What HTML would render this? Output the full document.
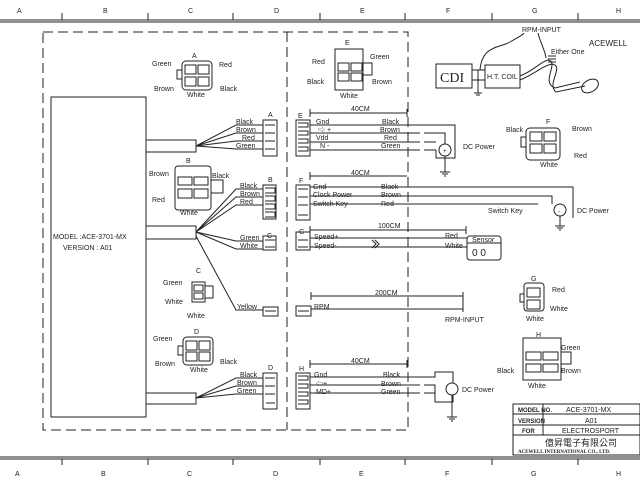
<!DOCTYPE html>
<html><head><meta charset="utf-8"><style>
html,body{margin:0;padding:0;background:#fff;}
svg{display:block;}
text{font-family:"Liberation Sans","Noto Sans CJK TC",sans-serif;font-size:7px;fill:#222;}
.l{stroke:#222;stroke-width:1;fill:none;}
.d{stroke:#222;stroke-width:1;fill:none;stroke-dasharray:10,5;}
.w{fill:#fff;stroke:#222;stroke-width:1;}
</style></head><body>
<svg width="640" height="480" viewBox="0 0 640 480" xmlns="http://www.w3.org/2000/svg">
<!-- border -->
<line x1="0" y1="20" x2="640" y2="20" class="l" stroke-width="1.5"/>
<line x1="0" y1="22" x2="640" y2="22" class="l"/>
<line x1="0" y1="457" x2="640" y2="457" class="l" stroke-width="1.5"/>
<line x1="0" y1="459" x2="640" y2="459" class="l"/>
<g class="l">
<path d="M62 13v7M148 13v7M233 13v7M320 13v7M405 13v7M492 13v7M578 13v7"/>
<path d="M62 459v6M148 459v6M233 459v6M320 459v6M405 459v6M492 459v6M578 459v6"/>
</g>
<g style="font-size:9px">
<text x="17" y="13">A</text><text x="103" y="13">B</text><text x="188" y="13">C</text><text x="274" y="13">D</text><text x="360" y="13">E</text><text x="446" y="13">F</text><text x="532" y="13">G</text><text x="616" y="13">H</text>
<text x="15" y="476">A</text><text x="101" y="476">B</text><text x="187" y="476">C</text><text x="273" y="476">D</text><text x="359" y="476">E</text><text x="445" y="476">F</text><text x="531" y="476">G</text><text x="616" y="476">H</text>
</g>
<!-- dashed boxes -->
<rect x="43" y="32" width="365" height="398" class="d"/>
<line x1="287" y1="32" x2="287" y2="430" class="d"/>
<!-- main box -->
<rect x="51" y="97" width="95" height="320" class="l"/>
<text x="53" y="239">MODEL :ACE-3701-MX</text>
<text x="63" y="250">VERSION : A01</text>
<!-- cables -->
<rect x="146" y="140" width="50" height="12" class="l"/>
<rect x="146" y="226" width="50" height="13" class="l"/>
<rect x="146" y="393" width="50" height="11" class="l"/>
<g class="l">
<path d="M196 146L236 125H263M196 146L236 133H263M196 146L236 141H263M196 146L236 149H263"/>
<path d="M196 232L236 189H263M196 232L236 197H263M196 232L236 205H263"/>
<path d="M196 232L236 241H263M196 232L236 249H263"/>
<path d="M196 236L236 310H263"/>
<path d="M196 398L236 378H263M196 398L236 386H263M196 398L236 394H263"/>
</g>
<text x="236" y="124">Black</text><text x="236" y="132">Brown</text><text x="242" y="140">Red</text><text x="236" y="148">Green</text>
<text x="240" y="188">Black</text><text x="240" y="196">Brown</text><text x="240" y="204">Red</text>
<text x="240" y="240">Green</text><text x="240" y="248">White</text>
<text x="237" y="309">Yellow</text>
<text x="240" y="377">Black</text><text x="237" y="385">Brown</text><text x="237" y="393">Green</text>
<!-- left-side connectors -->
<text x="268" y="117">A</text><rect x="263" y="120" width="14" height="36" class="l"/>
<path class="l" d="M265 125h10M265 133h10M265 141h10M265 149h10"/>
<text x="268" y="182">B</text><rect x="263" y="185" width="13" height="34" class="l"/>
<path class="l" d="M265 188h10v5h-10M265 196h10v5h-10M265 204h10v5h-10M265 212h10v5h-10"/>
<text x="267" y="238">C</text><rect x="263" y="236" width="13" height="14" class="l"/>
<path class="l" d="M265 240h10M265 247h10"/>
<rect x="263" y="307" width="15" height="9" class="l"/><path class="l" d="M265 311h11"/>
<text x="268" y="370">D</text><rect x="263" y="373" width="14" height="36" class="l"/>
<path class="l" d="M265 378h10M265 386h10M265 394h10M266 403h9"/>
<!-- connector drawings left -->
<text x="192" y="58">A</text>
<rect x="182" y="61" width="30" height="29" rx="4" class="l"/><rect x="177" y="70" width="5" height="9" class="l"/>
<rect x="185" y="65" width="11" height="9" class="l"/><rect x="198" y="65" width="11" height="9" class="l"/><rect x="185" y="77" width="11" height="9" class="l"/><rect x="198" y="77" width="11" height="9" class="l"/>
<text x="152" y="66">Green</text><text x="219" y="67">Red</text><text x="154" y="91">Brown</text><text x="220" y="91">Black</text><text x="187" y="97">White</text>
<text x="186" y="163">B</text>
<rect x="175" y="166" width="36" height="44" rx="3" class="l"/><rect x="211" y="180" width="12" height="13" class="l"/>
<rect x="178" y="177" width="14" height="8" class="l"/><rect x="194" y="177" width="14" height="8" class="l"/><rect x="178" y="189" width="14" height="9" class="l"/><rect x="194" y="189" width="14" height="9" class="l"/>
<text x="149" y="176">Brown</text><text x="212" y="178">Black</text><text x="152" y="202">Red</text><text x="180" y="215">White</text>
<text x="196" y="273">C</text>
<rect x="192" y="282" width="13" height="20" class="l"/><rect x="205" y="286" width="8" height="12" class="l"/>
<rect x="194" y="285" width="9" height="6" class="l"/><rect x="194" y="293" width="9" height="6" class="l"/>
<text x="163" y="285">Green</text><text x="165" y="304">White</text><text x="187" y="318">White</text>
<text x="194" y="334">D</text>
<rect x="183" y="337" width="30" height="28" rx="4" class="l"/><rect x="178" y="346" width="5" height="9" class="l"/>
<rect x="186" y="341" width="11" height="9" class="l"/><rect x="199" y="341" width="11" height="9" class="l"/><rect x="186" y="352" width="11" height="9" class="l"/><rect x="199" y="352" width="11" height="9" class="l"/>
<text x="153" y="341">Green</text><text x="155" y="366">Brown</text><text x="220" y="364">Black</text><text x="190" y="372">White</text>
<!-- E connector drawing top -->
<text x="345" y="45">E</text>
<rect x="335" y="49" width="28" height="41" class="l"/><rect x="363" y="63" width="9" height="12" class="l"/>
<rect x="338" y="63" width="11" height="8" class="l"/><rect x="351" y="63" width="11" height="8" class="l"/><rect x="338" y="73" width="11" height="8" class="l"/><rect x="351" y="73" width="11" height="8" class="l"/>
<text x="312" y="64">Red</text><text x="370" y="59">Green</text><text x="307" y="84">Black</text><text x="372" y="84">Brown</text><text x="340" y="98">White</text>
<!-- right side harnesses -->
<g class="l">
<path d="M310 113H407M310 109v8M407 109v8M362 176H407M310 176H407M310 172v8"/>
</g>
<text x="351" y="111">40CM</text>
<text x="298" y="118">E</text><rect x="296" y="120" width="14" height="36" class="l"/>
<path class="l" d="M298 123h10v4h-10M298 131h10v4h-10M298 139h10v4h-10M298 147h10v4h-10"/>
<path class="l" d="M310 125H455V158H436V150M310 133H420M424 133H445V144M310 142H420M424 142H436M310 150H420M424 150H436"/>
<circle cx="445" cy="150" r="6" class="w"/><text x="443" y="153" style="font-size:6px">+</text>
<path class="l" d="M445 156V172M440 172h10M442 174h6M444 176h2"/>
<text x="316" y="124">Gnd</text><text x="318" y="132">⇨ +</text><text x="316" y="140">Vdd</text><text x="320" y="148">N -</text>
<text x="382" y="124">Black</text><text x="380" y="132">Brown</text><text x="384" y="140">Red</text><text x="381" y="148">Green</text>
<text x="463" y="149">DC Power</text>
<text x="351" y="175">40CM</text>
<text x="299" y="183">F</text><rect x="296" y="185" width="14" height="35" class="l"/>
<path class="l" d="M298 189h10M298 197h10M298 205h10M298 215h10"/>
<path class="l" d="M310 187H573V218M310 196H552V204M310 204H538"/>
<circle cx="560" cy="210" r="6" class="w"/><text x="558" y="213" style="font-size:6px">-</text>
<path class="l" d="M560 216V226M555 226h10M557 228h6M559 230h2"/>
<text x="313" y="189">Gnd</text><text x="313" y="197">Clock Power</text><text x="313" y="206">Switch Key</text>
<text x="381" y="189">Black</text><text x="381" y="197">Brown</text><text x="381" y="206">Red</text>
<text x="488" y="213">Switch Key</text><text x="577" y="213">DC Power</text>
<!-- G -->
<path class="l" d="M310 230H466M310 226v8M466 226v8"/><text x="378" y="228">100CM</text>
<text x="299" y="234">G</text><rect x="296" y="232" width="14" height="18" class="l"/>
<path class="l" d="M298 240h10M298 247h10"/>
<path class="l" d="M310 238H467M310 247H467M372 240l4 4-4 4M375 240l4 4-4 4"/>
<text x="314" y="239">Speed+</text><text x="314" y="248">Speed-</text>
<text x="445" y="238">Red</text><text x="445" y="248">White</text>
<rect x="467" y="236" width="34" height="24" rx="3" class="l"/><path class="l" d="M467 243h34"/>
<text x="472" y="242">Sensor</text><text x="472" y="256" style="font-size:10px">0  0</text>
<!-- RPM -->
<path class="l" d="M311 296H463M311 292v8M463 292v20"/><text x="375" y="295">200CM</text>
<rect x="296" y="306" width="15" height="10" class="l"/><path class="l" d="M298 311h11"/>
<path class="l" d="M311 309H463"/><text x="314" y="309">RPM</text>
<text x="445" y="322">RPM-INPUT</text>
<!-- H -->
<path class="l" d="M310 364H407M310 360v8M407 360v8"/><text x="351" y="363">40CM</text>
<text x="299" y="371">H</text><rect x="296" y="373" width="14" height="36" class="l"/>
<path class="l" d="M298 376h10v4h-10M298 384h10v4h-10M298 392h10v4h-10M298 400h10v4h-10"/>
<path class="l" d="M310 377H435V372H453V383M310 385H420M424 385H435V402H453V395M310 393H420M424 393H435"/>
<circle cx="452" cy="389" r="6" class="w"/>
<path class="l" d="M452 395V417M447 417h10M449 419h6M451 421h2"/>
<text x="314" y="377">Gnd</text><text x="316" y="386">⇦+</text><text x="316" y="394">MD+</text>
<text x="383" y="377">Black</text><text x="381" y="386">Brown</text><text x="381" y="394">Green</text>
<text x="462" y="392">DC Power</text>
<!-- top-right CDI -->
<rect x="436" y="64" width="36" height="24" class="l"/><text x="440" y="82" style="font-size:14px;font-family:'Liberation Serif',serif">CDI</text>
<rect x="472" y="70" width="13" height="10" class="l"/>
<rect x="485" y="65" width="35" height="23" class="l"/><text x="487" y="79" style="font-size:7px">H.T. COIL</text>
<path class="l" d="M478 70V93M474 93h8M476 95h4"/>
<path class="l" stroke-width="1.5" d="M480 70C482 45 500 48 510 42C520 36 523 35 524 33M538 33C540 42 545 50 546 58"/>
<path class="l" d="M520 76C535 70 540 62 548 60M520 80C535 74 542 66 552 64M548 60C560 62 540 82 555 88L580 82M552 64C565 66 546 84 556 92L585 86"/>
<ellipse cx="590" cy="86" rx="9" ry="6" class="l" transform="rotate(-30 590 86)"/>
<path class="l" d="M548 56h8M548 59h8M548 62h8"/>
<text x="522" y="32">RPM-INPUT</text><text x="551" y="54">Either One</text>
<text x="589" y="46" style="font-size:8px">ACEWELL</text>
<!-- F drawing -->
<text x="546" y="124">F</text>
<rect x="526" y="128" width="34" height="32" rx="4" class="l"/><rect x="521" y="137" width="5" height="10" class="l"/>
<rect x="530" y="132" width="12" height="9" class="l"/><rect x="544" y="132" width="12" height="9" class="l"/><rect x="530" y="144" width="12" height="9" class="l"/><rect x="544" y="144" width="12" height="9" class="l"/>
<text x="506" y="132">Black</text><text x="572" y="131">Brown</text><text x="574" y="158">Red</text><text x="540" y="167">White</text>
<!-- G drawing -->
<text x="531" y="281">G</text>
<rect x="524" y="283" width="20" height="28" rx="3" class="l"/><rect x="520" y="294" width="4" height="8" class="l"/>
<rect x="527" y="288" width="13" height="9" class="l"/><rect x="527" y="300" width="13" height="9" class="l"/>
<text x="552" y="292">Red</text><text x="550" y="311">White</text><text x="526" y="321">White</text>
<!-- H drawing -->
<text x="536" y="337">H</text>
<rect x="523" y="338" width="38" height="42" class="l"/><rect x="561" y="352" width="10" height="12" class="l"/>
<rect x="526" y="352" width="15" height="8" class="l"/><rect x="543" y="352" width="15" height="8" class="l"/><rect x="526" y="364" width="15" height="8" class="l"/><rect x="543" y="364" width="15" height="8" class="l"/>
<text x="561" y="350">Green</text><text x="497" y="373">Black</text><text x="561" y="373">Brown</text><text x="528" y="388">White</text>
<!-- title block -->
<rect x="513" y="404" width="127" height="51" class="l"/>
<path class="l" d="M513 414H640M513 425H640M513 435H640M543 404V435"/>
<text x="518" y="412" style="font-size:6px;font-weight:bold">MODEL NO.</text><text x="566" y="412">ACE-3701-MX</text>
<text x="518" y="423" style="font-size:6px;font-weight:bold">VERSION</text><text x="585" y="423">A01</text>
<text x="522" y="433" style="font-size:6px;font-weight:bold">FOR</text><text x="562" y="433">ELECTROSPORT</text>
<text x="545" y="446" style="font-size:9px">億昇電子有限公司</text>
<text x="518" y="453" style="font-size:5px;font-weight:bold;font-family:'Liberation Serif',serif">ACEWELL INTERNATIONAL CO., LTD.</text>
</svg>
</body></html>
